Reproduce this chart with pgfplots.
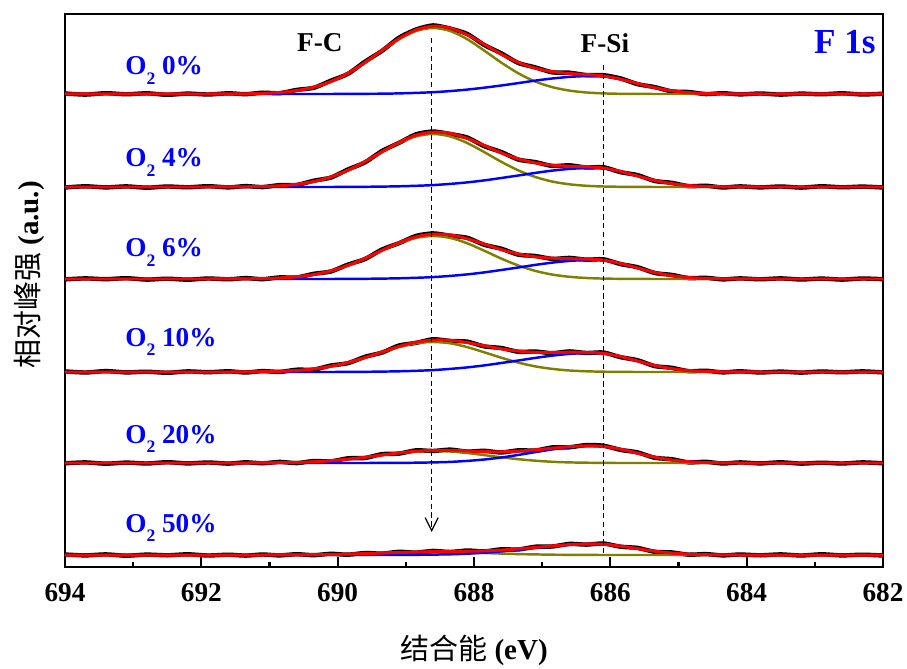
\documentclass[border=0pt]{standalone}
\usepackage{fontspec}
\setmainfont{Liberation Serif}
\newfontfamily\cjk{Noto Sans CJK SC}
\usepackage{pgfplots}
\usepackage{pgfplotstable}
\pgfplotsset{compat=1.18}
\usetikzlibrary{arrows.meta,calc}
\definecolor{olv}{RGB}{128,128,0}
\definecolor{fitred}{RGB}{255,0,0}
\definecolor{cblue}{RGB}{0,0,255}

% F 1s spectra, y = height above each baseline (arbitrary units)
\pgfplotstableread{
x C S fit raw
694 0 0 0 0.5
693.7 0 0 0 -0.6
693.4 0 0 0 0.8
693.1 0 0 0 -0.3
692.8 0 0 0 0.7
692.5 0 0 0 -0.8
692.2 0 0 0 0.4
691.9 0 0 0 -0.5
691.6 0.1 0 0.1 0.7
691.35 0.2 0 0.2 -0.2
691.1 0.6 0 0.6 1.3
690.85 1.5 0 1.5 0.8
690.6 3.4 0 3.4 4.1
690.35 6.8 0 6.8 6.2
690.1 12.4 0 12.4 13.3
689.85 20.7 0.1 20.7 20.1
689.6 31.4 0.2 31.5 32.3
689.35 43.4 0.3 43.8 43.1
689.1 54.8 0.6 55.4 56.3
688.85 63.0 1.1 64.1 64.5
688.6 66.0 1.8 67.8 68.6
688.35 63.0 2.9 66.0 65.4
688.1 54.8 4.4 59.2 60.1
687.85 43.4 6.3 49.7 49.0
687.6 31.4 8.5 39.8 40.7
687.35 20.7 10.9 31.6 31.0
687.1 12.4 13.4 25.8 26.6
686.85 6.8 15.5 22.3 21.6
686.6 3.4 17.1 20.5 21.3
686.35 1.5 17.9 19.5 18.9
686.1 0.6 17.5 18.1 18.8
685.85 0.2 14.6 14.9 15.6
685.6 0.1 10.4 10.5 9.8
685.35 0 6.3 6.3 6.9
685.1 0 3.2 3.2 2.6
684.85 0 1.4 1.4 2.0
684.6 0 0.5 0.5 -0.1
684.35 0 0.2 0.2 0.8
684.1 0 0.1 0.1 -0.4
683.8 0 0 0 0.5
683.5 0 0 0 -0.6
683.2 0 0 0 0.4
682.9 0 0 0 -0.3
682.6 0 0 0 0.7
682.3 0 0 0 -0.5
682 0 0 0 0.3
}\tzero

\pgfplotstableread{
x C S fit raw
694 0 0 0 -0.5
693.7 0 0 0 0.7
693.4 0 0 0 -0.4
693.1 0 0 0 0.6
692.8 0 0 0 -0.7
692.5 0 0 0 0.5
692.2 0 0 0 -0.3
691.9 0 0 0 0.8
691.6 0.1 0 0.1 -0.4
691.35 0.2 0 0.2 0.9
691.1 0.5 0 0.5 -0.1
690.85 1.2 0 1.2 1.9
690.6 2.7 0 2.7 2.0
690.35 5.4 0 5.5 6.3
690.1 10.0 0 10.0 9.4
689.85 16.6 0.1 16.7 17.5
689.6 25.2 0.2 25.4 24.6
689.35 34.9 0.4 35.2 36.0
689.1 44.0 0.7 44.7 44.1
688.85 50.6 1.2 51.8 52.7
688.6 53.0 1.9 54.9 55.5
688.35 50.6 3.1 53.7 53.0
688.1 44.0 4.6 48.6 49.5
687.85 34.9 6.6 41.5 40.8
687.6 25.2 9.0 34.1 35.0
687.35 16.6 11.5 28.1 27.4
687.1 10.0 14.1 24.1 24.9
686.85 5.4 16.4 21.8 21.0
686.6 2.7 18.1 20.8 21.7
686.35 1.2 18.9 20.2 19.5
686.1 0.5 18.5 19.0 19.8
685.85 0.2 15.4 15.6 14.8
685.6 0.1 11.0 11.0 11.9
685.35 0 6.6 6.6 6.0
685.1 0 3.4 3.4 4.2
684.85 0 1.5 1.5 0.8
684.6 0 0.6 0.6 1.3
684.35 0 0.2 0.2 -0.5
684.1 0 0.1 0.1 0.6
683.8 0 0 0 -0.4
683.5 0 0 0 0.5
683.2 0 0 0 -0.6
682.9 0 0 0 0.7
682.6 0 0 0 -0.3
682.3 0 0 0 0.4
682 0 0 0 -0.5
}\tfour

\pgfplotstableread{
x C S fit raw
694 0 0 0 -0.4
693.7 0 0 0 0.6
693.4 0 0 0 -0.2
693.1 0 0 0 0.8
692.8 0 0 0 -0.6
692.5 0 0 0 0.3
692.2 0 0 0 -0.7
691.9 0 0 0 0.5
691.6 0.1 0 0.1 -0.3
691.35 0.2 0 0.2 0.9
691.1 0.4 0 0.4 -0.2
690.85 1.0 0 1.0 1.6
690.6 2.2 0 2.2 1.5
690.35 4.4 0 4.4 5.2
690.1 8.1 0 8.1 7.5
689.85 13.5 0.1 13.6 14.4
689.6 20.4 0.2 20.6 19.9
689.35 28.3 0.4 28.7 29.5
689.1 35.7 0.7 36.4 35.8
688.85 41.1 1.2 42.2 43.1
688.6 43.0 1.9 44.9 45.6
688.35 41.1 3.1 44.1 43.3
688.1 35.7 4.6 40.3 41.2
687.85 28.3 6.6 34.9 34.2
687.6 20.4 9.0 29.4 30.3
687.35 13.5 11.5 25.0 24.3
687.1 8.1 14.1 22.2 23.0
686.85 4.4 16.4 20.8 20.1
686.6 2.2 18.1 20.3 21.1
686.35 1.0 18.9 19.9 19.3
686.1 0.4 18.5 18.9 19.7
685.85 0.2 15.4 15.6 14.9
685.6 0.1 11.0 11.0 11.8
685.35 0 6.6 6.6 6.0
685.1 0 3.4 3.4 4.1
684.85 0 1.5 1.5 0.9
684.6 0 0.6 0.6 1.2
684.35 0 0.2 0.2 -0.4
684.1 0 0.1 0.1 0.6
683.8 0 0 0 -0.3
683.5 0 0 0 0.6
683.2 0 0 0 -0.5
682.9 0 0 0 0.4
682.6 0 0 0 -0.6
682.3 0 0 0 0.5
682 0 0 0 -0.2
}\tsix

\pgfplotstableread{
x C S fit raw
694 0 0 0 0.6
693.7 0 0 0 -0.5
693.4 0 0 0 0.9
693.1 0 0 0 -0.4
692.8 0 0 0 0.3
692.5 0 0 0 -0.8
692.2 0 0 0 0.6
691.9 0 0 0 -0.2
691.6 0 0 0 0.7
691.35 0.1 0 0.1 -0.5
691.1 0.3 0 0.3 0.9
690.85 0.7 0 0.7 0.1
690.6 1.5 0 1.5 2.3
690.35 3.1 0 3.1 2.4
690.1 5.6 0 5.7 6.5
689.85 9.4 0.1 9.5 8.8
689.6 14.3 0.2 14.4 15.2
689.35 19.7 0.4 20.1 19.4
689.1 24.9 0.7 25.6 26.5
688.85 28.7 1.2 29.8 29.1
688.6 30.0 1.9 31.9 32.8
688.35 28.7 3.1 31.7 31.0
688.1 24.9 4.6 29.5 30.4
687.85 19.7 6.6 26.3 25.6
687.6 14.3 9.0 23.2 24.0
687.35 9.4 11.5 20.9 20.2
687.1 5.6 14.1 19.7 20.5
686.85 3.1 16.4 19.5 18.8
686.6 1.5 18.1 19.8 20.6
686.35 0.7 18.9 19.6 19.0
686.1 0.3 18.5 18.7 19.5
685.85 0.1 15.4 15.5 14.8
685.6 0 11.0 11.0 11.8
685.35 0 6.6 6.6 5.9
685.1 0 3.4 3.4 4.2
684.85 0 1.5 1.5 0.8
684.6 0 0.6 0.6 1.3
684.35 0 0.2 0.2 -0.4
684.1 0 0.1 0.1 0.7
683.8 0 0 0 -0.5
683.5 0 0 0 0.4
683.2 0 0 0 -0.6
682.9 0 0 0 0.5
682.6 0 0 0 -0.3
682.3 0 0 0 0.6
682 0 0 0 -0.4
}\tten

\pgfplotstableread{
x C S fit raw
694 0 0 0 -0.3
693.7 0 0 0 0.6
693.4 0 0 0 -0.7
693.1 0 0 0 0.4
692.8 0 0 0 -0.5
692.5 0 0 0 0.8
692.2 0 0 0 -0.4
691.9 0 0 0 0.5
691.6 0 0 0 -0.6
691.35 0 0 0 0.7
691.1 0.1 0 0.1 -0.3
690.85 0.3 0 0.3 1.1
690.6 0.6 0 0.6 -0.1
690.35 1.2 0 1.2 2.0
690.1 2.3 0 2.3 1.6
689.85 3.8 0 3.8 4.7
689.6 5.7 0 5.7 5.0
689.35 7.9 0.1 8.0 8.9
689.1 10.0 0.1 10.1 9.4
688.85 11.5 0.3 11.8 12.7
688.6 12.0 0.6 12.6 12.0
688.35 11.5 1.1 12.6 13.4
688.1 10.0 2.1 12.1 11.4
687.85 7.9 3.5 11.4 12.2
687.6 5.7 5.5 11.2 10.5
687.35 3.8 8.1 11.9 12.7
687.1 2.3 10.9 13.2 12.5
686.85 1.2 13.6 14.8 15.6
686.6 0.6 15.8 16.4 15.7
686.35 0.3 16.9 17.2 18.0
686.1 0.1 16.5 16.6 17.3
685.85 0 13.8 13.8 13.1
685.6 0 9.8 9.8 10.6
685.35 0 5.9 5.9 5.2
685.1 0 3.0 3.0 3.8
684.85 0 1.3 1.3 0.6
684.6 0 0.5 0.5 1.2
684.35 0 0.2 0.2 -0.5
684.1 0 0 0 0.6
683.8 0 0 0 -0.4
683.5 0 0 0 0.7
683.2 0 0 0 -0.6
682.9 0 0 0 0.3
682.6 0 0 0 -0.5
682.3 0 0 0 0.6
682 0 0 0 -0.3
}\ttwenty

\pgfplotstableread{
x C S fit raw
694 0 0 0 0.5
693.7 0 0 0 -0.4
693.4 0 0 0 0.6
693.1 0 0 0 -0.7
692.8 0 0 0 0.4
692.5 0 0 0 -0.3
692.2 0 0 0 0.7
691.9 0 0 0 -0.5
691.6 0 0 0 0.3
691.35 0 0 0 -0.6
691.1 0 0 0 0.5
690.85 0.1 0 0.1 -0.4
690.6 0.2 0 0.2 0.8
690.35 0.3 0 0.3 -0.2
690.1 0.6 0 0.6 1.2
689.85 0.9 0 0.9 0.3
689.6 1.4 0 1.4 2.0
689.35 2.0 0 2.0 1.4
689.1 2.5 0.1 2.6 3.2
688.85 2.9 0.2 3.0 2.4
688.6 3.0 0.4 3.4 4.1
688.35 2.9 0.7 3.6 3.0
688.1 2.5 1.3 3.8 4.5
687.85 2.0 2.3 4.2 3.6
687.6 1.4 3.6 5.0 5.7
687.35 0.9 5.2 6.2 5.5
687.1 0.6 7.0 7.6 8.3
686.85 0.3 8.8 9.1 8.5
686.6 0.2 10.2 10.4 11.1
686.35 0.1 10.9 11.0 10.4
686.1 0 10.7 10.8 11.5
685.85 0 8.9 8.9 8.3
685.6 0 6.4 6.4 7.1
685.35 0 3.8 3.8 3.2
685.1 0 2.0 2.0 2.6
684.85 0 0.9 0.9 0.3
684.6 0 0.3 0.3 0.9
684.35 0 0.1 0.1 -0.4
684.1 0 0 0 0.5
683.8 0 0 0 -0.3
683.5 0 0 0 0.6
683.2 0 0 0 -0.5
682.9 0 0 0 0.7
682.6 0 0 0 -0.4
682.3 0 0 0 0.3
682 0 0 0 -0.5
}\tfifty

\tikzset{
  rawdata/.style={black, line width=2.5pt, smooth, tension=0.4},
  cf/.style={olv, line width=1.4pt, smooth},
  csi/.style={cblue, line width=1.4pt, smooth},
  fitline/.style={fitred, line width=1.7pt, smooth},
  lab/.style={font=\fontsize{15.5}{18}\selectfont\bfseries},
  olab/.style={lab, text=cblue, anchor=base west, inner sep=0pt},
}
\newcommand{\Otwo}[1]{O\raisebox{-5.5pt}{\fontsize{10}{10}\selectfont 2}\ #1\%}

\begin{document}
\begin{tikzpicture}
\begin{axis}[
  scale only axis, width=16.36cm, height=11.06cm,
  xmin=682, xmax=694, x dir=reverse, ymin=0, ymax=553,
  xtick={682,684,...,694}, minor x tick num=1, ytick=\empty,
  xtick pos=left, tick align=inside,
  major tick length=0.2cm, minor tick length=0.1cm,
  axis line style={line width=1.2pt},
  every tick/.style={black, line width=1.2pt},
  /pgf/number format/assume math mode=true,
  /pgf/number format/1000 sep={},
  xticklabel style={font=\fontsize{15.5}{18}\selectfont\bfseries, anchor=center, yshift=-0.52cm},
  xlabel={{\cjk 结合能} \textbf{(eV)}},
  ylabel={{\cjk 相对峰强} \textbf{(a.u.)}},
  xlabel style={font=\fontsize{16.5}{19}\selectfont, at={(axis description cs:0.5,-0.150)}, anchor=center},
  ylabel style={font=\fontsize{16.5}{19}\selectfont, at={(axis description cs:-0.043,0.528)}, anchor=center},
  clip=false,
]
% O2 0%
\addplot[rawdata] table[x=x, y expr=\thisrow{raw}+473] {\tzero};
\addplot[cf] table[x=x, y expr=\thisrow{C}+473] {\tzero};
\addplot[csi] table[x=x, y expr=\thisrow{S}+473] {\tzero};
\addplot[fitline] table[x=x, y expr=\thisrow{fit}+473] {\tzero};
% O2 4%
\addplot[rawdata] table[x=x, y expr=\thisrow{raw}+380] {\tfour};
\addplot[cf] table[x=x, y expr=\thisrow{C}+380] {\tfour};
\addplot[csi] table[x=x, y expr=\thisrow{S}+380] {\tfour};
\addplot[fitline] table[x=x, y expr=\thisrow{fit}+380] {\tfour};
% O2 6%
\addplot[rawdata] table[x=x, y expr=\thisrow{raw}+288] {\tsix};
\addplot[cf] table[x=x, y expr=\thisrow{C}+288] {\tsix};
\addplot[csi] table[x=x, y expr=\thisrow{S}+288] {\tsix};
\addplot[fitline] table[x=x, y expr=\thisrow{fit}+288] {\tsix};
% O2 10%
\addplot[rawdata] table[x=x, y expr=\thisrow{raw}+195] {\tten};
\addplot[cf] table[x=x, y expr=\thisrow{C}+195] {\tten};
\addplot[csi] table[x=x, y expr=\thisrow{S}+195] {\tten};
\addplot[fitline] table[x=x, y expr=\thisrow{fit}+195] {\tten};
% O2 20%
\addplot[rawdata] table[x=x, y expr=\thisrow{raw}+104] {\ttwenty};
\addplot[cf] table[x=x, y expr=\thisrow{C}+104] {\ttwenty};
\addplot[csi] table[x=x, y expr=\thisrow{S}+104] {\ttwenty};
\addplot[fitline] table[x=x, y expr=\thisrow{fit}+104] {\ttwenty};
% O2 50%
\addplot[rawdata] table[x=x, y expr=\thisrow{raw}+12] {\tfifty};
\addplot[cf] table[x=x, y expr=\thisrow{C}+12] {\tfifty};
\addplot[csi] table[x=x, y expr=\thisrow{S}+12] {\tfifty};
\addplot[fitline] table[x=x, y expr=\thisrow{fit}+12] {\tfifty};

% peak position guides
\draw[black, line width=0.7pt, dash pattern=on 3pt off 2pt, -{Straight Barb[length=0.26cm,width=0.26cm]}]
  (axis cs:688.62,529) -- (axis cs:688.62,35);
\draw[black, line width=0.7pt, dash pattern=on 3pt off 2pt]
  (axis cs:686.1,502) -- (axis cs:686.1,14);

\node[lab] at (axis cs:690.26,524) {F-C};
\node[lab] at (axis cs:686.08,524) {F-Si};
\node[font=\fontsize{20}{22}\selectfont\bfseries, text=cblue] at (axis cs:682.56,525) {F 1s};

\node[olab] at (axis cs:693.12,492) {\Otwo{0}};
\node[olab] at (axis cs:693.12,400) {\Otwo{4}};
\node[olab] at (axis cs:693.12,310) {\Otwo{6}};
\node[olab] at (axis cs:693.12,221) {\Otwo{10}};
\node[olab] at (axis cs:693.12,124) {\Otwo{20}};
\node[olab] at (axis cs:693.12,35) {\Otwo{50}};
\end{axis}
\pgfresetboundingbox
\path[use as bounding box] ($(current axis.south west)+(-1.30cm,-2.02cm)$) rectangle ++(18.14cm,13.36cm);
\end{tikzpicture}
\end{document}
